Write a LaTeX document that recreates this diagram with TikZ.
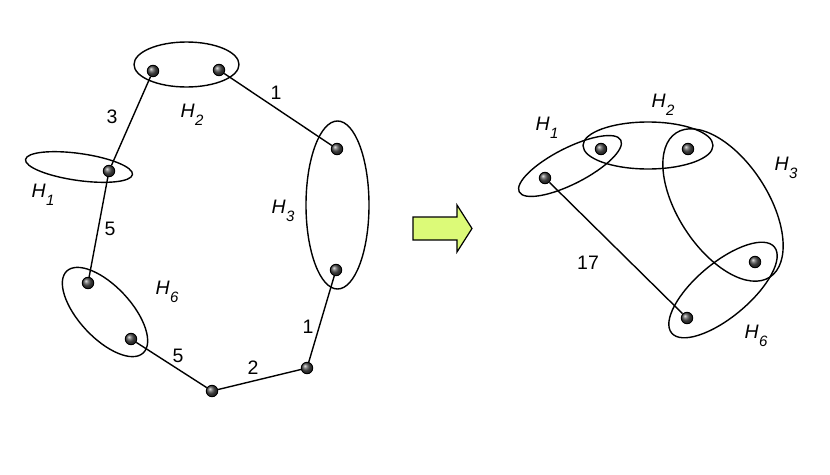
\documentclass[tikz,border=0pt]{standalone}
\usepackage{fontspec}
\setmainfont{Liberation Sans}
\usetikzlibrary{shapes.geometric}
\definecolor{arrowgreen}{RGB}{220,250,120}
\newcommand{\hl}[1]{\textit{H\kern0.5pt\raisebox{-0.42em}{\fontsize{15}{17}\selectfont #1}}}
\tikzset{
  dot/.style={circle, draw=black, line width=0.9pt, inner sep=0pt, minimum size=11.5pt, ball color=black!70},
  hyper/.style={ellipse, draw=black, line width=1.4pt, inner sep=0pt},
  edge/.style={line width=1.4pt, draw=black},
  lbl/.style={font=\fontsize{19.5}{22}\selectfont, inner sep=0pt},
}
\begin{document}
\begin{tikzpicture}[x=1pt, y=-1pt]
\useasboundingbox (0,0) rectangle (830,474);
% ---------- left hypergraph ----------
\node[hyper, minimum width=105pt, minimum height=45pt] (eH2) at (186.5,64.5) {};
\node[hyper, minimum width=63pt, minimum height=168pt] (eH3) at (337.5,205) {};
\node[hyper, minimum width=108pt, minimum height=27pt, rotate=-8] (eH1) at (79,167) {};
\node[hyper, minimum width=112pt, minimum height=52pt, rotate=-47] (eH6) at (105,312) {};

\node[dot] (a2) at (153,71) {};
\node[dot] (b2) at (219,70) {};
\node[dot] (a3) at (337,149) {};
\node[dot] (b3) at (336,270) {};
\node[dot] (a1) at (109,171) {};
\node[dot] (a6) at (88,283) {};
\node[dot] (b6) at (131,339) {};
\node[dot] (p) at (212,391) {};
\node[dot] (q) at (307,368) {};

\draw[edge] (a2) -- (a1);
\draw[edge] (a1) -- (a6);
\draw[edge] (b6) -- (p);
\draw[edge] (p) -- (q);
\draw[edge] (q) -- (b3);
\draw[edge] (b2) -- (a3);

\node[lbl] (tH2) at (192,115) {\hl{2}};
\node[lbl] (tH3) at (283,211) {\hl{3}};
\node[lbl] (tH1) at (43,195) {\hl{1}};
\node[lbl] (tH6) at (167,292) {\hl{6}};
\node[lbl] (w1) at (276,93) {1};
\node[lbl] (w3) at (112,117) {3};
\node[lbl] (w5a) at (110,229) {5};
\node[lbl] (w5b) at (178,356) {5};
\node[lbl] (w2) at (253,368) {2};
\node[lbl] (w1b) at (308,327) {1};

% ---------- arrow ----------
\draw[line width=1.2pt, fill=arrowgreen, line join=miter]
  (413,217) -- (457,217) -- (457,205) -- (472,228.5) -- (457,252) -- (457,240) -- (413,240) -- cycle;

% ---------- right hypergraph ----------
\node[hyper, minimum width=172pt, minimum height=90pt, rotate=-57] (rH3) at (723,205) {};
\node[hyper, minimum width=130pt, minimum height=47pt] (rH2) at (648,145.5) {};
\node[hyper, minimum width=114pt, minimum height=36pt, rotate=27] (rH1) at (570,166) {};
\node[hyper, minimum width=134pt, minimum height=54pt, rotate=40] (rH6) at (723,290) {};

\node[dot] (r1) at (545,178) {};
\node[dot] (r2) at (601,149) {};
\node[dot] (r3) at (688,149) {};
\node[dot] (r4) at (755,262) {};
\node[dot] (r5) at (687,318) {};

\draw[edge] (r1) -- (r5);

\node[lbl] (rtH1) at (547,128) {\hl{1}};
\node[lbl] (rtH2) at (663,105) {\hl{2}};
\node[lbl] (rtH3) at (786,168) {\hl{3}};
\node[lbl] (rtH6) at (756,336) {\hl{6}};
\node[lbl] (w17) at (588,263) {17};
\end{tikzpicture}
\end{document}
